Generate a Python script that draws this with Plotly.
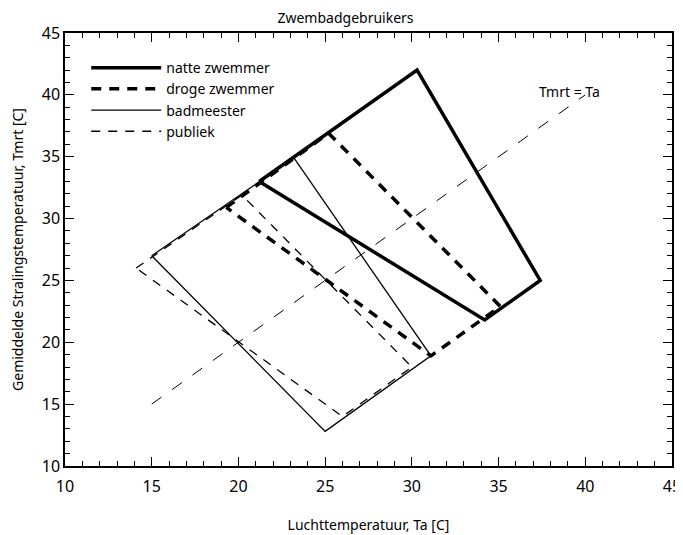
import plotly.graph_objects as go

# Data (polygon vertices, Ta vs Tmrt)
natte_x = [21.2, 30.3, 37.4, 34.2, 21.2]
natte_y = [33.0, 42.0, 25.0, 21.8, 33.0]
droge_x = [19.3, 25.2, 35.1, 31.1, 19.3]
droge_y = [30.9, 36.9, 22.9, 18.9, 30.9]
bad_x = [15.0, 23.2, 31.1, 25.0, 15.0]
bad_y = [27.0, 34.9, 18.9, 12.8, 27.0]
pub_x = [14.1, 20.2, 30.0, 26.0, 14.1]
pub_y = [26.0, 31.9, 18.0, 14.0, 26.0]
ref_x = [15, 40]
ref_y = [15, 40]

names = ["natte zwemmer", "droge zwemmer", "badmeester", "publiek"]
FONT = "Noto Sans"

fig = go.Figure()
fig.add_trace(go.Scatter(x=natte_x, y=natte_y, mode="lines", name=names[0],
                         line=dict(color="black", width=3.5)))
fig.add_trace(go.Scatter(x=droge_x, y=droge_y, mode="lines", name=names[1],
                         line=dict(color="black", width=3.5, dash="10px,8px")))
fig.add_trace(go.Scatter(x=bad_x, y=bad_y, mode="lines", name=names[2],
                         line=dict(color="black", width=1.3)))
fig.add_trace(go.Scatter(x=pub_x, y=pub_y, mode="lines", name=names[3],
                         line=dict(color="black", width=1.3, dash="9px,8px")))
fig.add_trace(go.Scatter(x=ref_x, y=ref_y, mode="lines", showlegend=False,
                         line=dict(color="black", width=1, dash="12px,13px")))

axis_common = dict(
    showgrid=False, zeroline=False, showline=True, linecolor="black", linewidth=1.5,
    mirror="allticks", ticks="inside", ticklen=9, tickwidth=1.2, tickcolor="black",
    dtick=5, range=[10, 45], automargin=False,
    minor=dict(ticks="inside", ticklen=5, dtick=1, tickcolor="black", tickwidth=1),
    tickfont=dict(family=FONT, size=16, color="black"),
)

# page body has an 8px default margin, so the figure is sized to fit inside it
fig.update_layout(
    width=675, height=527,
    margin=dict(l=57, r=11, t=25, b=69),
    paper_bgcolor="white", plot_bgcolor="white",
    title=dict(text="Zwembadgebruikers", x=0.5, xanchor="center", y=0.981, yanchor="middle",
               font=dict(family=FONT, size=14, color="black")),
    xaxis=dict(axis_common, ticklabelstandoff=5,
               title=dict(text="Luchttemperatuur, Ta [C]",
                          font=dict(family=FONT, size=14, color="black"),
                          standoff=24)),
    yaxis=dict(axis_common,
               title=dict(text="Gemiddelde Stralingstemperatuur, Tmrt [C]",
                          font=dict(family=FONT, size=14, color="black"),
                          standoff=22)),
    legend=dict(x=0.035, y=0.956, xanchor="left", yanchor="top", bgcolor="rgba(0,0,0,0)",
                itemwidth=70, tracegroupgap=0,
                font=dict(family=FONT, size=14, color="black")),
    annotations=[dict(x=39.1, y=40.3, xref="x", yref="y", text="Tmrt = Ta", showarrow=False,
                      font=dict(family=FONT, size=14, color="black"))],
)

fig.write_html("out.html")
